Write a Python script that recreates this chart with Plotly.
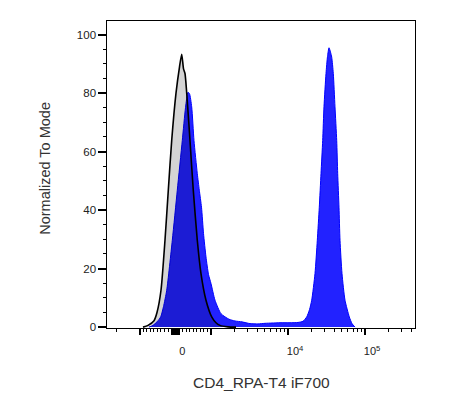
import numpy as np
import plotly.graph_objects as go

# histogram data in display channels (0-1024 logicle-like scale), % of mode
iso_ch = [119.7, 136.3, 156.3, 166.2, 179.5, 192.8, 203.8, 215.1, 229.4, 241.1,
          248.4, 254.4, 259.3, 268.3, 275.9, 286.9, 300.2, 312.5, 329.1, 348.1,
          362.4, 375.7, 402.3, 428.9]
iso_pct = [0, 0.6, 2.2, 5, 12.6, 29.7, 46.8, 63.8, 80, 89,
           93.3, 88.3, 86.7, 75.3, 63.8, 46.8, 29.7, 18.3, 9.2, 3.5,
           1.5, 0.6, 0.1, 0]

cd4_ch = [139.6, 152.9, 166.2, 178.5, 187.8, 198.5, 217.1, 233.7, 250.3, 261,
          269.3, 274.3, 281.6, 289.2, 300.2, 306.9, 314.2, 320.9, 329.1, 337.5,
          345.8, 359.1, 379, 405.6, 425.6, 448.8, 475.4, 502, 525.3, 548.6,
          575.2, 608.4, 635, 651.6, 664, 673.3, 680.6, 691.5, 699.2, 705.8,
          711.5, 717.1, 721.4, 728.1, 733.1, 738.1, 743.1, 747.1, 752.4, 758,
          763.7, 767, 771.3, 774.7, 781.3, 791.3, 805.6, 814.6, 824.5]
cd4_pct = [0, 0.6, 1.8, 3.5, 7, 12.6, 29.7, 46.8, 63.8, 75,
           80.3, 79.8, 75.3, 63.8, 52.5, 46.8, 41, 32, 24, 18,
           14.9, 9.2, 4.6, 2.7, 2.1, 1.8, 1.2, 1.1, 1.3, 1.4,
           1.5, 1.5, 1.6, 2.0, 3.5, 6, 9.2, 18.3, 29.7, 41,
           52.5, 63.8, 75.3, 86.7, 92.5, 95.5, 94, 92.3, 86.7, 75.3,
           63.8, 52.5, 41, 29.7, 18.3, 9.2, 3.5, 1.2, 0]

# labelled decades, unlabelled major ticks, minor ticks (raw fluorescence units)
label_vals = [0, 10000, 100000]
label_text = ["0", "10<sup>4</sup>", "10<sup>5</sup>"]
plain_major_vals = [-1000, 1000] + [-k * 10 for k in range(1, 10)] + [k * 10 for k in range(1, 10)]
minor_vals = ([-2000] + [-k * 100 for k in range(1, 10)]
              + [k * 100 for k in range(1, 10)]
              + [k * 1000 for k in range(2, 10)] + [k * 10000 for k in range(2, 10)]
              + [200000, 300000, 400000])

y_major = [0, 20, 40, 60, 80, 100]


def to_channel(v):
    # biexponential display: linear within +/-1000, 256 channels per decade above
    zero, lin = 227.0, 118.9
    if abs(v) <= 1000:
        return zero + lin * v / 1000
    return zero + np.sign(v) * (lin + 256 * np.log10(abs(v) / 1000))


fig = go.Figure()
fig.add_trace(go.Scatter(x=cd4_ch, y=cd4_pct, mode="lines", fill="tozeroy",
                         fillcolor="#2222ff", line=dict(color="#0000ff", width=1, shape="spline", smoothing=0.6),
                         hoverinfo="skip"))
fig.add_trace(go.Scatter(x=iso_ch, y=iso_pct, mode="lines", fill="tozeroy",
                         fillcolor="rgba(0,0,0,0.17)", line=dict(color="black", width=1.6, shape="spline", smoothing=0.6),
                         hoverinfo="skip"))
# invisible trace that carries the second (tick-only) x axis
fig.add_trace(go.Scatter(x=[0, 1024], y=[0, 0], xaxis="x2", mode="lines",
                         line=dict(width=0), hoverinfo="skip"))

fig.update_layout(
    width=447, height=403,
    margin=dict(l=99, r=40, t=13, b=83),
    paper_bgcolor="white", plot_bgcolor="white",
    showlegend=False,
    font=dict(family="Liberation Sans, Arial", color="#222"),
    annotations=[
        dict(text="Normalized To Mode", x=-0.2, y=0.52, xref="paper", yref="paper",
             textangle=-90, showarrow=False, font=dict(size=14.5, color="#333"),
             xanchor="center", yanchor="middle"),
        dict(text="CD4_RPA-T4 iF700", x=0.5, y=-0.176, xref="paper", yref="paper",
             showarrow=False, font=dict(size=15.5, color="#333"),
             xanchor="center", yanchor="middle"),
    ],
    xaxis=dict(
        range=[0, 1024], showgrid=False, zeroline=False,
        showline=True, linecolor="black", linewidth=1.3, mirror=True,
        tickmode="array", tickvals=[to_channel(v) for v in label_vals], ticktext=label_text,
        ticks="outside", ticklen=6, tickwidth=2, tickcolor="black",
        tickfont=dict(size=11, color="#222"), ticklabelstandoff=7, ticklabelshift=7,
        minor=dict(tickmode="array", tickvals=[to_channel(v) for v in minor_vals],
                   ticks="outside", ticklen=3, tickwidth=1, tickcolor="black", showgrid=False),
    ),
    xaxis2=dict(range=[0, 1024], overlaying="x", anchor="y", side="bottom",
                showgrid=False, zeroline=False, showline=False, showticklabels=False,
                tickmode="array", tickvals=[to_channel(v) for v in plain_major_vals],
                ticks="outside", ticklen=6, tickwidth=2, tickcolor="black"),
    yaxis=dict(
        range=[-0.3, 104.65], showgrid=False, zeroline=False,
        showline=True, linecolor="black", linewidth=1.3, mirror=True,
        tickmode="array", tickvals=y_major,
        ticks="outside", ticklen=7.5, tickwidth=2, tickcolor="black",
        tickfont=dict(size=11.5, color="#222"),
        minor=dict(dtick=5, ticks="outside", ticklen=3.3, tickwidth=1, tickcolor="black", showgrid=False),
    ),
)

fig.write_html("out.html")
